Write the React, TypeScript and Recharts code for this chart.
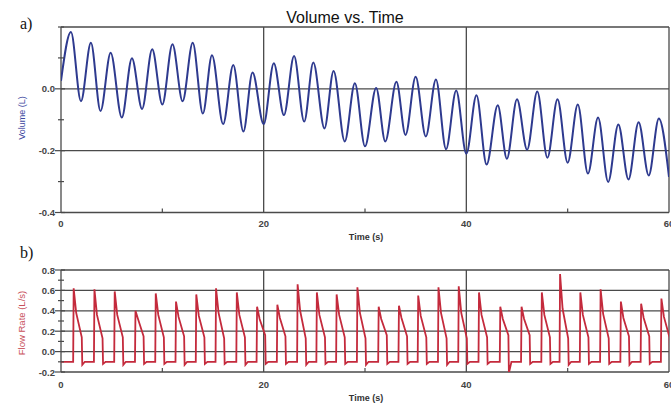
import React from "react";
import { LineChart, Line, XAxis, YAxis, ReferenceLine } from "recharts";

// ---- Volume vs. Time (panel a): peaks and troughs ----
const volTime = [
  0, 0.98, 1.97, 2.95, 3.9, 4.9, 6.0, 7.0, 8.0, 9.0, 10.0, 11.0, 12.0, 13.0, 14.0, 14.9,
  16.0, 17.0, 18.0, 18.9, 20.0, 21.0, 22.0, 23.0, 24.0, 24.9, 26.0, 26.9, 28.0, 29.0, 30.0,
  31.1, 32.0, 33.1, 34.0, 35.0, 36.0, 37.0, 38.0, 39.0, 40.0, 41.0, 42.0, 43.1, 44.0, 45.0,
  46.0, 47.0, 48.0, 49.0, 50.0, 51.0, 52.0, 53.0, 54.0, 55.0, 56.0, 57.0, 58.0, 59.0, 60.0,
];
const volValue = [
  0.026, 0.184, -0.04, 0.149, -0.072, 0.117, -0.093, 0.099, -0.065, 0.128, -0.051, 0.144,
  -0.04, 0.149, -0.08, 0.109, -0.114, 0.077, -0.138, 0.053, -0.114, 0.083, -0.085, 0.106,
  -0.106, 0.085, -0.128, 0.058, -0.17, 0.018, -0.186, 0.003, -0.17, 0.023, -0.149, 0.039,
  -0.154, 0.03, -0.195, -0.005, -0.21, -0.021, -0.245, -0.053, -0.226, -0.034, -0.197,
  -0.009, -0.223, -0.034, -0.239, -0.051, -0.274, -0.093, -0.301, -0.115, -0.293, -0.108,
  -0.28, -0.096, -0.285,
];

// ---- Flow rate (panel b): one entry per expiratory pulse ----
const flowRise = [
  1.2, 3.25, 5.25, 7.3, 9.3, 11.3, 13.3, 15.25, 17.3, 19.3, 21.3, 23.3, 25.2, 27.15, 29.2,
  31.3, 33.3, 35.2, 37.2, 39.2, 41.2, 43.3, 45.4, 47.4, 49.2, 51.2, 53.2, 55.2, 57.2, 59.2,
];
const flowPeak = [
  0.62, 0.61, 0.59, 0.4, 0.57, 0.49, 0.56, 0.62, 0.58, 0.44, 0.46, 0.66, 0.58, 0.56, 0.63,
  0.44, 0.45, 0.55, 0.63, 0.64, 0.58, 0.44, 0.44, 0.58, 0.76, 0.58, 0.61, 0.49, 0.47, 0.52,
];
const flowMid = [
  0.38, 0.36, 0.36, 0.32, 0.36, 0.34, 0.35, 0.38, 0.36, 0.32, 0.33, 0.4, 0.36, 0.36, 0.38,
  0.32, 0.33, 0.35, 0.38, 0.38, 0.36, 0.32, 0.32, 0.36, 0.42, 0.36, 0.37, 0.33, 0.33, 0.34,
];
const flowEnd = [
  0.14, 0.13, 0.14, 0.15, 0.14, 0.15, 0.14, 0.13, 0.14, 0.16, 0.15, 0.13, 0.14, 0.14, 0.13,
  0.16, 0.15, 0.14, 0.13, 0.13, 0.14, 0.16, 0.16, 0.14, 0.13, 0.14, 0.13, 0.15, 0.15, 0.14,
];
const flowUnder = [
  -0.13, -0.12, -0.13, -0.12, -0.12, -0.13, -0.12, -0.12, -0.13, -0.12, -0.12, -0.13, -0.12,
  -0.12, -0.13, -0.12, -0.12, -0.12, -0.13, -0.12, -0.12, -0.21, -0.12, -0.12, -0.13, -0.12,
  -0.12, -0.13, -0.12, -0.12,
];
const flowBase = -0.1;

const volTicks = [-0.4, -0.3, -0.2, -0.1, 0, 0.1, 0.2];
const volLabelled = [-0.4, -0.2, 0];
const flowTicks = [-0.2, -0.1, 0, 0.1, 0.2, 0.3, 0.4, 0.5, 0.6, 0.7, 0.8];
const flowLabelled = [-0.2, 0, 0.2, 0.4, 0.6, 0.8];
const timeTicks = [0, 10, 20, 30, 40, 50, 60];
const timeLabelled = [0, 20, 40, 60];

const volData = volTime.map((t, i) => ({ t, v: volValue[i] }));

const flowData: { t: number; v: number }[] = [{ t: 0, v: flowBase }];
flowRise.forEach((r, i) => {
  flowData.push({ t: r, v: flowBase });
  flowData.push({ t: r + 0.05, v: flowPeak[i] });
  flowData.push({ t: r + 0.3, v: flowMid[i] });
  flowData.push({ t: r + 0.85, v: flowEnd[i] });
  flowData.push({ t: r + 0.9, v: flowUnder[i] });
  flowData.push({ t: r + 1.15, v: flowBase });
});

const GRID = "#4a4a4a";
const LABEL_FONT = "'Liberation Sans', Arial, sans-serif";

const makeXTick = (dy: number) => (props: any) => {
  const { x, y, payload } = props;
  const v = payload.value;
  if (timeLabelled.includes(v)) {
    return (
      <text x={x} y={y + dy} textAnchor="middle" fontSize={9.5} fontWeight={600}
        fontFamily={LABEL_FONT} fill="#444">{v}</text>
    );
  }
  return <line x1={x} x2={x} y1={y} y2={y - 4} stroke={GRID} strokeWidth={1.2} />;
};

const makeYTick = (labelled: number[]) => (props: any) => {
  const { x, y, payload } = props;
  const v = payload.value;
  const major = labelled.some((l) => Math.abs(l - v) < 1e-6);
  if (major) {
    return (
      <g>
        <line x1={x - 6} x2={x + 4} y1={y} y2={y} stroke={GRID} strokeWidth={1.2} />
        <text x={x - 6} y={y + 3.5} textAnchor="end" fontSize={9.5} fontWeight={600}
          fontFamily={LABEL_FONT} fill="#444">{v.toFixed(1)}</text>
      </g>
    );
  }
  return <line x1={x - 3} x2={x + 3} y1={y} y2={y} stroke={GRID} strokeWidth={1.2} />;
};

export default function App() {
  return (
    <div style={{ position: "absolute", left: 0, top: 0, width: 671, height: 406, background: "#fff", overflow: "hidden" }}>
      <div style={{ position: "absolute", left: 0, top: 0 }}>
        <LineChart width={671} height={245} data={volData} margin={{ top: 27, right: 2, bottom: 0, left: 0 }}>
          <XAxis type="number" dataKey="t" domain={[0, 60]} ticks={timeTicks} allowDataOverflow
            height={32.5} tickSize={0} tickMargin={0} axisLine={false} tickLine={false}
            tick={makeXTick(14)} interval={0} />
          <YAxis type="number" domain={[-0.4, 0.2]} ticks={volTicks} allowDataOverflow width={61}
            tickSize={0} tickMargin={0} axisLine={false} tickLine={false} tick={makeYTick(volLabelled)} interval={0} />
          <ReferenceLine y={0} stroke={GRID} strokeWidth={1.3} />
          <ReferenceLine y={-0.2} stroke={GRID} strokeWidth={1.3} />
          <ReferenceLine x={20} stroke={GRID} strokeWidth={1.3} />
          <ReferenceLine x={40} stroke={GRID} strokeWidth={1.3} />
          <ReferenceLine y={0.2} stroke={GRID} strokeWidth={1.3} />
          <ReferenceLine y={-0.4} stroke={GRID} strokeWidth={1.3} />
          <ReferenceLine x={0} stroke={GRID} strokeWidth={1.3} />
          <ReferenceLine x={60} stroke={GRID} strokeWidth={1.3} />
          <Line type="monotone" dataKey="v" stroke="#2e3a8f" strokeWidth={2} dot={false} isAnimationActive={false} />
        </LineChart>
      </div>
      <div style={{ position: "absolute", left: 0, top: 245 }}>
        <LineChart width={671} height={161} data={flowData} margin={{ top: 25, right: 2, bottom: 0, left: 0 }}>
          <XAxis type="number" dataKey="t" domain={[0, 60]} ticks={timeTicks} allowDataOverflow
            height={34} tickSize={0} tickMargin={0} axisLine={false} tickLine={false}
            tick={makeXTick(16)} interval={0} />
          <YAxis type="number" domain={[-0.2, 0.8]} ticks={flowTicks} allowDataOverflow width={61}
            tickSize={0} tickMargin={0} axisLine={false} tickLine={false} tick={makeYTick(flowLabelled)} interval={0} />
          <ReferenceLine y={0.6} stroke={GRID} strokeWidth={1.3} />
          <ReferenceLine y={0.4} stroke={GRID} strokeWidth={1.3} />
          <ReferenceLine y={0.2} stroke={GRID} strokeWidth={1.3} />
          <ReferenceLine y={0} stroke={GRID} strokeWidth={1.3} />
          <ReferenceLine x={20} stroke={GRID} strokeWidth={1.3} />
          <ReferenceLine x={40} stroke={GRID} strokeWidth={1.3} />
          <ReferenceLine y={0.8} stroke={GRID} strokeWidth={1.3} />
          <ReferenceLine y={-0.2} stroke={GRID} strokeWidth={1.3} />
          <ReferenceLine x={0} stroke={GRID} strokeWidth={1.3} />
          <ReferenceLine x={60} stroke={GRID} strokeWidth={1.3} />
          <Line type="linear" dataKey="v" stroke="#c42a3c" strokeWidth={1.8} dot={false} isAnimationActive={false} />
        </LineChart>
      </div>
      <svg width={671} height={406} style={{ position: "absolute", left: 0, top: 0, pointerEvents: "none" }}>
        <text x={20} y={29} fontFamily="'Liberation Serif', 'Times New Roman', serif" fontSize={16} fill="#111">a)</text>
        <text x={345} y={23} textAnchor="middle" fontFamily={LABEL_FONT} fontSize={16} fill="#111">Volume vs. Time</text>
        <text x={25} y={118} transform="rotate(-90 25 118)" textAnchor="middle" fontFamily={LABEL_FONT} fontSize={9} fill="#3c47a0">Volume (L)</text>
        <text x={366} y={240} textAnchor="middle" fontFamily={LABEL_FONT} fontSize={9} fontWeight={600} fill="#333">Time (s)</text>
        <text x={20} y={258} fontFamily="'Liberation Serif', 'Times New Roman', serif" fontSize={16} fill="#111">b)</text>
        <text x={25} y={323} transform="rotate(-90 25 323)" textAnchor="middle" fontFamily={LABEL_FONT} fontSize={9.5} fill="#c8505a">Flow Rate (L/s)</text>
        <text x={366} y={401} textAnchor="middle" fontFamily={LABEL_FONT} fontSize={9} fontWeight={600} fill="#333">Time (s)</text>
      </svg>
    </div>
  );
}
